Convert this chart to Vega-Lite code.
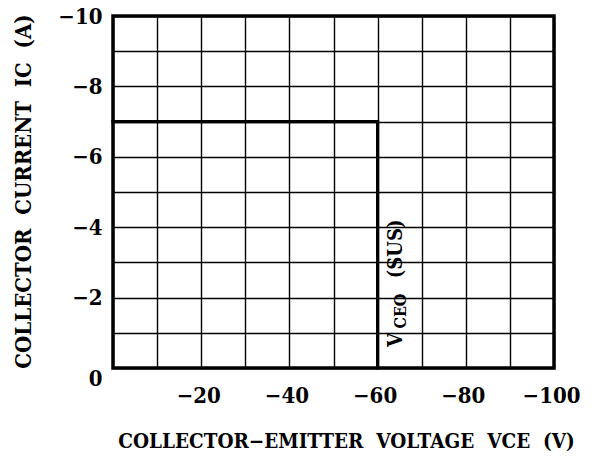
{
  "$schema": "https://vega.github.io/schema/vega-lite/v6.json",
  "autosize": {"type": "none"},
  "width": 441,
  "height": 352,
  "padding": {"left": 113, "top": 16, "right": 43, "bottom": 91},
  "background": "white",
  "config": {
    "font": "DejaVu Serif Condensed, DejaVu Serif",
    "view": {"stroke": "black", "strokeWidth": 3.5},
    "axis": {
      "domain": false,
      "ticks": false,
      "grid": true,
      "gridColor": "black",
      "gridWidth": 1.4,
      "gridOpacity": 1,
      "labelFont": "DejaVu Serif Condensed, DejaVu Serif",
      "labelFontWeight": "bold",
      "labelFontSize": 22,
      "labelColor": "black",
      "titleFont": "DejaVu Serif Condensed, DejaVu Serif",
      "titleFontWeight": "bold",
      "titleColor": "black",
      "labelOverlap": false,
      "labelFlush": false
    }
  },
  "encoding": {
    "x": {
      "field": "x",
      "type": "quantitative",
      "scale": {"domain": [0, -100], "nice": false, "zero": false},
      "axis": {
        "values": [0, -10, -20, -30, -40, -50, -60, -70, -80, -90, -100],
        "labelExpr": "datum.value % 20 == 0 && datum.value != 0 ? datum.label : ''",
        "labelPadding": 27,
        "labelBaseline": "middle",
        "labelOffset": -3,
        "title": "COLLECTOR−EMITTER \u00a0VOLTAGE \u00a0VCE \u00a0(V)",
        "titleFontSize": 20.5,
        "titleX": 233,
        "titleY": 73,
        "titleAlign": "center",
        "titleBaseline": "middle"
      }
    },
    "y": {
      "field": "y",
      "type": "quantitative",
      "scale": {"domain": [0, -10], "nice": false, "zero": false},
      "axis": {
        "values": [0, -1, -2, -3, -4, -5, -6, -7, -8, -9, -10],
        "labelExpr": "datum.value % 2 == 0 ? datum.label : ''",
        "labelPadding": 11,
        "labelBaseline": {"condition": {"test": "datum.value == 0", "value": "top"}, "value": "middle"},
        "title": "COLLECTOR \u00a0CURRENT \u00a0IC \u00a0(A)",
        "titleFontSize": 22,
        "titleX": -90,
        "titleY": 175,
        "titleAngle": 270,
        "titleAlign": "center",
        "titleBaseline": "middle"
      }
    }
  },
  "layer": [
    {
      "data": {"values": [
        {"i": 0, "x": 0, "y": -7},
        {"i": 1, "x": -60, "y": -7},
        {"i": 2, "x": -60, "y": 0}
      ]},
      "mark": {"type": "line", "color": "black", "strokeWidth": 3.2, "strokeCap": "square"},
      "encoding": {"order": {"field": "i", "type": "quantitative"}}
    },
    {
      "data": {"values": [
        {"x": -64.2, "y": -0.6, "t": "V"},
        {"x": -64.2, "y": -2.55, "t": "(SUS)"}
      ]},
      "mark": {"type": "text", "angle": 270, "align": "left", "baseline": "middle", "font": "DejaVu Serif Condensed, DejaVu Serif", "fontWeight": "bold", "fontSize": 20, "color": "black"},
      "encoding": {"text": {"field": "t"}}
    },
    {
      "data": {"values": [
        {"x": -65.2, "y": -1.12, "t": "CEO"}
      ]},
      "mark": {"type": "text", "angle": 270, "align": "left", "baseline": "middle", "font": "DejaVu Serif Condensed, DejaVu Serif", "fontWeight": "bold", "fontSize": 16, "color": "black"},
      "encoding": {"text": {"field": "t"}}
    }
  ]
}
